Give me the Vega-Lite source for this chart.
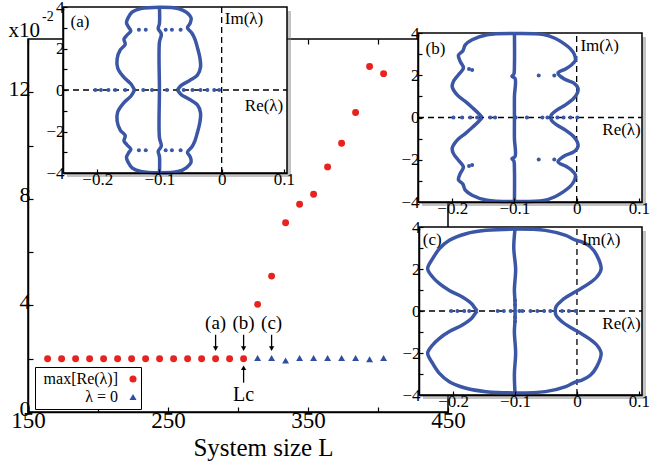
{
"$schema": "https://vega.github.io/schema/vega-lite/v6.json",
"width": 420, "height": 373,
"autosize": {"type": "none"},
"padding": {"left": 28, "top": 39, "right": 204, "bottom": 51},
"background": "white",
"config": {
  "view": {"stroke": null},
  "font": "Liberation Serif",
  "axis": {"grid": false, "labelColor": "black", "domainColor": "black", "tickColor": "black", "titleColor": "black", "labelFont": "Liberation Serif", "titleFont": "Liberation Serif", "labelFlush": false, "labelOverlap": false, "titleFontWeight": "normal", "domainWidth": 1.5, "tickWidth": 1.2},
  "text": {"font": "Liberation Serif", "color": "black"}
},
"datasets": {
  "main": [
    {"L":164,"v":2.0,"s":"max[Re(λ)]"},{"L":174,"v":2.0,"s":"max[Re(λ)]"},{"L":184,"v":2.0,"s":"max[Re(λ)]"},{"L":194,"v":2.0,"s":"max[Re(λ)]"},{"L":204,"v":2.0,"s":"max[Re(λ)]"},
    {"L":214,"v":2.0,"s":"max[Re(λ)]"},{"L":224,"v":2.0,"s":"max[Re(λ)]"},{"L":234,"v":2.0,"s":"max[Re(λ)]"},{"L":244,"v":2.0,"s":"max[Re(λ)]"},{"L":254,"v":2.0,"s":"max[Re(λ)]"},
    {"L":264,"v":2.0,"s":"max[Re(λ)]"},{"L":274,"v":2.0,"s":"max[Re(λ)]"},{"L":284,"v":2.0,"s":"max[Re(λ)]"},{"L":294,"v":2.0,"s":"max[Re(λ)]"},{"L":304,"v":2.0,"s":"max[Re(λ)]"},
    {"L":314,"v":4.04,"s":"max[Re(λ)]"},{"L":324,"v":5.1,"s":"max[Re(λ)]"},{"L":334,"v":7.1,"s":"max[Re(λ)]"},{"L":344,"v":7.8,"s":"max[Re(λ)]"},{"L":354,"v":8.17,"s":"max[Re(λ)]"},
    {"L":364,"v":9.2,"s":"max[Re(λ)]"},{"L":374,"v":10.09,"s":"max[Re(λ)]"},{"L":384,"v":11.24,"s":"max[Re(λ)]"},{"L":394,"v":12.97,"s":"max[Re(λ)]"},{"L":404,"v":12.7,"s":"max[Re(λ)]"},
    {"L":314,"v":2.03,"s":"λ = 0"},{"L":324,"v":2.03,"s":"λ = 0"},{"L":334,"v":1.93,"s":"λ = 0"},{"L":344,"v":2.03,"s":"λ = 0"},{"L":354,"v":2.03,"s":"λ = 0"},
    {"L":364,"v":2.03,"s":"λ = 0"},{"L":374,"v":2.03,"s":"λ = 0"},{"L":384,"v":2.03,"s":"λ = 0"},{"L":394,"v":1.98,"s":"λ = 0"},{"L":404,"v":2.03,"s":"λ = 0"}
  ],
  "annot": [
    {"L":284,"v":3.35,"t":"(a)"},{"L":304,"v":3.35,"t":"(b)"},{"L":324,"v":3.35,"t":"(c)"}
  ],
  "arrowsDown": [
    {"L":284,"v1":2.9,"v2":2.38},{"L":304,"v1":2.9,"v2":2.38},{"L":324,"v1":2.9,"v2":2.38}
  ],
  "aCurve": [
    {"c":"u","i":0,"re":-0.140,"im":0},{"c":"u","i":1,"re":-0.146,"im":0.3},{"c":"u","i":2,"re":-0.158,"im":0.64},{"c":"u","i":3,"re":-0.167,"im":1.05},{"c":"u","i":4,"re":-0.168,"im":1.5},
    {"c":"u","i":5,"re":-0.163,"im":1.93},{"c":"u","i":6,"re":-0.155,"im":2.2},{"c":"u","i":7,"re":-0.157,"im":2.45},{"c":"u","i":8,"re":-0.152,"im":2.65},{"c":"u","i":9,"re":-0.146,"im":2.85},
    {"c":"u","i":10,"re":-0.150,"im":3.05},{"c":"u","i":11,"re":-0.153,"im":3.25},{"c":"u","i":12,"re":-0.150,"im":3.5},{"c":"u","i":13,"re":-0.144,"im":3.75},{"c":"u","i":14,"re":-0.130,"im":3.92},
    {"c":"u","i":15,"re":-0.100,"im":3.99},{"c":"u","i":16,"re":-0.070,"im":3.93},{"c":"u","i":17,"re":-0.057,"im":3.75},{"c":"u","i":18,"re":-0.049,"im":3.45},{"c":"u","i":19,"re":-0.051,"im":3.2},
    {"c":"u","i":20,"re":-0.055,"im":3.0},{"c":"u","i":21,"re":-0.048,"im":2.75},{"c":"u","i":22,"re":-0.043,"im":2.45},{"c":"u","i":23,"re":-0.039,"im":2.05},{"c":"u","i":24,"re":-0.035,"im":1.55},
    {"c":"u","i":25,"re":-0.034,"im":1.1},{"c":"u","i":26,"re":-0.039,"im":0.72},{"c":"u","i":27,"re":-0.052,"im":0.45},{"c":"u","i":28,"re":-0.065,"im":0.22},{"c":"u","i":29,"re":-0.071,"im":0},
    {"c":"l","i":0,"re":-0.140,"im":0},{"c":"l","i":1,"re":-0.146,"im":-0.3},{"c":"l","i":2,"re":-0.158,"im":-0.64},{"c":"l","i":3,"re":-0.167,"im":-1.05},{"c":"l","i":4,"re":-0.168,"im":-1.5},
    {"c":"l","i":5,"re":-0.163,"im":-1.93},{"c":"l","i":6,"re":-0.155,"im":-2.2},{"c":"l","i":7,"re":-0.157,"im":-2.45},{"c":"l","i":8,"re":-0.152,"im":-2.65},{"c":"l","i":9,"re":-0.146,"im":-2.85},
    {"c":"l","i":10,"re":-0.150,"im":-3.05},{"c":"l","i":11,"re":-0.153,"im":-3.25},{"c":"l","i":12,"re":-0.150,"im":-3.5},{"c":"l","i":13,"re":-0.144,"im":-3.75},{"c":"l","i":14,"re":-0.130,"im":-3.92},
    {"c":"l","i":15,"re":-0.100,"im":-3.99},{"c":"l","i":16,"re":-0.070,"im":-3.93},{"c":"l","i":17,"re":-0.057,"im":-3.75},{"c":"l","i":18,"re":-0.049,"im":-3.45},{"c":"l","i":19,"re":-0.051,"im":-3.2},
    {"c":"l","i":20,"re":-0.055,"im":-3.0},{"c":"l","i":21,"re":-0.048,"im":-2.75},{"c":"l","i":22,"re":-0.043,"im":-2.45},{"c":"l","i":23,"re":-0.039,"im":-2.05},{"c":"l","i":24,"re":-0.035,"im":-1.55},
    {"c":"l","i":25,"re":-0.034,"im":-1.1},{"c":"l","i":26,"re":-0.039,"im":-0.72},{"c":"l","i":27,"re":-0.052,"im":-0.45},{"c":"l","i":28,"re":-0.065,"im":-0.22},{"c":"l","i":29,"re":-0.071,"im":0},
    {"c":"m","i":0,"re":-0.100,"im":-3.99},{"c":"m","i":1,"re":-0.100,"im":-3.2},{"c":"m","i":2,"re":-0.102,"im":-2.95},{"c":"m","i":3,"re":-0.097,"im":-2.7},{"c":"m","i":4,"re":-0.100,"im":-2.3},
    {"c":"m","i":5,"re":-0.100,"im":0},{"c":"m","i":6,"re":-0.100,"im":2.3},{"c":"m","i":7,"re":-0.097,"im":2.7},{"c":"m","i":8,"re":-0.102,"im":2.95},{"c":"m","i":9,"re":-0.100,"im":3.2},{"c":"m","i":10,"re":-0.100,"im":3.99}
  ],
  "aDots": [
    {"re":-0.203,"im":0},{"re":-0.194,"im":0},{"re":-0.182,"im":0},{"re":-0.171,"im":0},{"re":-0.155,"im":0},{"re":-0.126,"im":0},{"re":-0.112,"im":0},
    {"re":-0.088,"im":0},{"re":-0.061,"im":0},{"re":-0.047,"im":0},{"re":-0.034,"im":0},{"re":-0.023,"im":0},{"re":-0.012,"im":0},{"re":-0.004,"im":0},
    {"re":-0.133,"im":2.9},{"re":-0.122,"im":2.9},{"re":-0.090,"im":2.9},{"re":-0.080,"im":2.9},{"re":-0.066,"im":2.9},
    {"re":-0.133,"im":-2.9},{"re":-0.122,"im":-2.9},{"re":-0.090,"im":-2.9},{"re":-0.080,"im":-2.9},{"re":-0.066,"im":-2.9}
  ],
  "bCurve": [
    {"c":"u","i":0,"re":-0.152,"im":0},{"c":"u","i":1,"re":-0.158,"im":0.2},{"c":"u","i":2,"re":-0.167,"im":0.45},{"c":"u","i":3,"re":-0.179,"im":0.76},{"c":"u","i":4,"re":-0.192,"im":1.07},
    {"c":"u","i":5,"re":-0.200,"im":1.45},{"c":"u","i":6,"re":-0.198,"im":1.71},{"c":"u","i":7,"re":-0.190,"im":2.02},{"c":"u","i":8,"re":-0.182,"im":2.35},{"c":"u","i":9,"re":-0.187,"im":2.65},
    {"c":"u","i":10,"re":-0.190,"im":2.95},{"c":"u","i":11,"re":-0.183,"im":3.15},{"c":"u","i":12,"re":-0.179,"im":3.44},{"c":"u","i":13,"re":-0.168,"im":3.68},{"c":"u","i":14,"re":-0.144,"im":3.92},
    {"c":"u","i":15,"re":-0.100,"im":3.98},{"c":"u","i":16,"re":-0.053,"im":3.93},{"c":"u","i":17,"re":-0.035,"im":3.75},{"c":"u","i":18,"re":-0.021,"im":3.51},{"c":"u","i":19,"re":-0.010,"im":3.25},
    {"c":"u","i":20,"re":-0.004,"im":3.0},{"c":"u","i":21,"re":-0.002,"im":2.72},{"c":"u","i":22,"re":-0.008,"im":2.5},{"c":"u","i":23,"re":-0.018,"im":2.3},{"c":"u","i":24,"re":-0.030,"im":2.1},
    {"c":"u","i":25,"re":-0.020,"im":1.82},{"c":"u","i":26,"re":-0.004,"im":1.62},{"c":"u","i":27,"re":0.002,"im":1.4},{"c":"u","i":28,"re":0.001,"im":1.15},{"c":"u","i":29,"re":-0.005,"im":0.9},
    {"c":"u","i":30,"re":-0.018,"im":0.6},{"c":"u","i":31,"re":-0.032,"im":0.35},{"c":"u","i":32,"re":-0.040,"im":0.15},{"c":"u","i":33,"re":-0.042,"im":0},
    {"c":"l","i":0,"re":-0.152,"im":0},{"c":"l","i":1,"re":-0.158,"im":-0.2},{"c":"l","i":2,"re":-0.167,"im":-0.45},{"c":"l","i":3,"re":-0.179,"im":-0.76},{"c":"l","i":4,"re":-0.192,"im":-1.07},
    {"c":"l","i":5,"re":-0.200,"im":-1.45},{"c":"l","i":6,"re":-0.198,"im":-1.71},{"c":"l","i":7,"re":-0.190,"im":-2.02},{"c":"l","i":8,"re":-0.182,"im":-2.35},{"c":"l","i":9,"re":-0.187,"im":-2.65},
    {"c":"l","i":10,"re":-0.190,"im":-2.95},{"c":"l","i":11,"re":-0.183,"im":-3.15},{"c":"l","i":12,"re":-0.179,"im":-3.44},{"c":"l","i":13,"re":-0.168,"im":-3.68},{"c":"l","i":14,"re":-0.144,"im":-3.92},
    {"c":"l","i":15,"re":-0.100,"im":-3.98},{"c":"l","i":16,"re":-0.053,"im":-3.93},{"c":"l","i":17,"re":-0.035,"im":-3.75},{"c":"l","i":18,"re":-0.021,"im":-3.51},{"c":"l","i":19,"re":-0.010,"im":-3.25},
    {"c":"l","i":20,"re":-0.004,"im":-3.0},{"c":"l","i":21,"re":-0.002,"im":-2.72},{"c":"l","i":22,"re":-0.008,"im":-2.5},{"c":"l","i":23,"re":-0.018,"im":-2.3},{"c":"l","i":24,"re":-0.030,"im":-2.1},
    {"c":"l","i":25,"re":-0.020,"im":-1.82},{"c":"l","i":26,"re":-0.004,"im":-1.62},{"c":"l","i":27,"re":0.002,"im":-1.4},{"c":"l","i":28,"re":0.001,"im":-1.15},{"c":"l","i":29,"re":-0.005,"im":-0.9},
    {"c":"l","i":30,"re":-0.018,"im":-0.6},{"c":"l","i":31,"re":-0.032,"im":-0.35},{"c":"l","i":32,"re":-0.040,"im":-0.15},{"c":"l","i":33,"re":-0.042,"im":0},
    {"c":"m","i":0,"re":-0.100,"im":-3.98},{"c":"m","i":1,"re":-0.100,"im":-2.5},{"c":"m","i":2,"re":-0.101,"im":-2.05},{"c":"m","i":3,"re":-0.104,"im":-1.95},{"c":"m","i":4,"re":-0.099,"im":-1.85},
    {"c":"m","i":5,"re":-0.100,"im":-1.0},{"c":"m","i":6,"re":-0.100,"im":0},{"c":"m","i":7,"re":-0.100,"im":1.0},{"c":"m","i":8,"re":-0.099,"im":1.85},{"c":"m","i":9,"re":-0.104,"im":1.95},
    {"c":"m","i":10,"re":-0.101,"im":2.05},{"c":"m","i":11,"re":-0.100,"im":2.5},{"c":"m","i":12,"re":-0.100,"im":3.98}
  ],
  "bDots": [
    {"re":-0.198,"im":0},{"re":-0.184,"im":0},{"re":-0.171,"im":0},{"re":-0.160,"im":0},{"re":-0.139,"im":0},{"re":-0.131,"im":0},{"re":-0.098,"im":0},
    {"re":-0.080,"im":0},{"re":-0.055,"im":0},{"re":-0.047,"im":0},{"re":-0.031,"im":0},{"re":-0.021,"im":0},{"re":-0.010,"im":0},{"re":0.001,"im":0},
    {"re":-0.036,"im":1.99},{"re":-0.061,"im":1.99},{"re":-0.036,"im":-1.99},{"re":-0.061,"im":-1.99},
    {"re":-0.173,"im":2.3},{"re":-0.168,"im":2.25},{"re":-0.173,"im":-2.3},{"re":-0.168,"im":-2.25}
  ],
  "cCurve": [
    {"c":"u","i":0,"re":-0.161,"im":0},{"c":"u","i":1,"re":-0.165,"im":0.15},{"c":"u","i":2,"re":-0.170,"im":0.35},{"c":"u","i":3,"re":-0.185,"im":0.67},{"c":"u","i":4,"re":-0.206,"im":0.98},
    {"c":"u","i":5,"re":-0.222,"im":1.30},{"c":"u","i":6,"re":-0.233,"im":1.62},{"c":"u","i":7,"re":-0.241,"im":2.01},{"c":"u","i":8,"re":-0.233,"im":2.49},{"c":"u","i":9,"re":-0.222,"im":2.97},
    {"c":"u","i":10,"re":-0.206,"im":3.37},{"c":"u","i":11,"re":-0.179,"im":3.68},{"c":"u","i":12,"re":-0.147,"im":3.84},{"c":"u","i":13,"re":-0.100,"im":3.9},{"c":"u","i":14,"re":-0.051,"im":3.84},
    {"c":"u","i":15,"re":-0.018,"im":3.60},{"c":"u","i":16,"re":-0.002,"im":3.37},{"c":"u","i":17,"re":0.008,"im":3.29},{"c":"u","i":18,"re":0.022,"im":3.05},{"c":"u","i":19,"re":0.032,"im":2.65},
    {"c":"u","i":20,"re":0.039,"im":2.01},{"c":"u","i":21,"re":0.032,"im":1.62},{"c":"u","i":22,"re":0.019,"im":1.30},{"c":"u","i":23,"re":0.006,"im":1.06},{"c":"u","i":24,"re":-0.008,"im":0.82},
    {"c":"u","i":25,"re":-0.024,"im":0.51},{"c":"u","i":26,"re":-0.034,"im":0.19},{"c":"u","i":27,"re":-0.035,"im":0},
    {"c":"l","i":0,"re":-0.161,"im":0},{"c":"l","i":1,"re":-0.165,"im":-0.15},{"c":"l","i":2,"re":-0.170,"im":-0.35},{"c":"l","i":3,"re":-0.185,"im":-0.67},{"c":"l","i":4,"re":-0.206,"im":-0.98},
    {"c":"l","i":5,"re":-0.222,"im":-1.30},{"c":"l","i":6,"re":-0.233,"im":-1.62},{"c":"l","i":7,"re":-0.241,"im":-2.01},{"c":"l","i":8,"re":-0.233,"im":-2.49},{"c":"l","i":9,"re":-0.222,"im":-2.97},
    {"c":"l","i":10,"re":-0.206,"im":-3.37},{"c":"l","i":11,"re":-0.179,"im":-3.68},{"c":"l","i":12,"re":-0.147,"im":-3.84},{"c":"l","i":13,"re":-0.100,"im":-3.9},{"c":"l","i":14,"re":-0.051,"im":-3.84},
    {"c":"l","i":15,"re":-0.018,"im":-3.60},{"c":"l","i":16,"re":-0.002,"im":-3.37},{"c":"l","i":17,"re":0.008,"im":-3.29},{"c":"l","i":18,"re":0.022,"im":-3.05},{"c":"l","i":19,"re":0.032,"im":-2.65},
    {"c":"l","i":20,"re":0.039,"im":-2.01},{"c":"l","i":21,"re":0.032,"im":-1.62},{"c":"l","i":22,"re":0.019,"im":-1.30},{"c":"l","i":23,"re":0.006,"im":-1.06},{"c":"l","i":24,"re":-0.008,"im":-0.82},
    {"c":"l","i":25,"re":-0.024,"im":-0.51},{"c":"l","i":26,"re":-0.034,"im":-0.19},{"c":"l","i":27,"re":-0.035,"im":0},
    {"c":"m","i":0,"re":-0.100,"im":-3.9},{"c":"m","i":1,"re":-0.101,"im":-3.0},{"c":"m","i":2,"re":-0.099,"im":-2.0},{"c":"m","i":3,"re":-0.101,"im":-1.0},{"c":"m","i":4,"re":-0.100,"im":-0.4},
    {"c":"m","i":5,"re":-0.100,"im":0.4},{"c":"m","i":6,"re":-0.101,"im":1.0},{"c":"m","i":7,"re":-0.099,"im":2.0},{"c":"m","i":8,"re":-0.102,"im":3.0},{"c":"m","i":9,"re":-0.100,"im":3.9}
  ],
  "cDots": [
    {"re":-0.203,"im":0},{"re":-0.193,"im":0},{"re":-0.182,"im":0},{"re":-0.174,"im":0},{"re":-0.128,"im":0},{"re":-0.118,"im":0},{"re":-0.107,"im":0},{"re":-0.093,"im":0},
    {"re":-0.088,"im":0},{"re":-0.075,"im":0},{"re":-0.064,"im":0},{"re":-0.053,"im":0},{"re":-0.043,"im":0},{"re":-0.024,"im":0},{"re":-0.013,"im":0},{"re":-0.002,"im":0},
    {"re":-0.100,"im":0.3},{"re":-0.100,"im":-0.3},{"re":-0.100,"im":0.5},{"re":-0.100,"im":-0.5}
  ]
},
"layer": [
  {
    "data": {"values": [{}]},
    "mark": {"type": "point", "opacity": 0},
    "encoding": {
      "x": {"datum": 150, "type": "quantitative", "title": null,
            "scale": {"domain": [150, 450], "nice": false, "zero": false},
            "axis": {"orient": "top", "offset": 0, "values": [150,200,250,300,350,400,450], "labels": false, "domain": false, "tickSize": -5, "zindex": 0}},
      "y": {"datum": 0, "type": "quantitative", "title": null,
            "scale": {"domain": [0, 14], "nice": false, "zero": false},
            "axis": {"orient": "right", "offset": 0, "values": [0,2,4,6,8,10,12], "labels": false, "domain": false, "tickSize": -5, "zindex": 0}}
    }
  },
  {
    "layer": [
      {"data": {"values": [{}]},
       "mark": {"type": "rect", "filled": false, "color": "black", "strokeWidth": 1.5},
       "encoding": {
         "x": {"datum": 150, "type": "quantitative", "title": "System size L",
               "scale": {"domain": [150, 450], "nice": false, "zero": false},
               "axis": {"orient": "bottom", "offset": 0, "values": [150,200,250,300,350,400,450], "labelExpr": "(datum.value - 150) % 100 == 0 ? datum.label : ''", "tickSize": -5, "labelFontSize": 23, "labelPadding": 2, "titleFontSize": 25, "titleX": 235, "titleY": 43, "titleBaseline": "alphabetic", "titleAlign": "center", "zindex": 0}},
         "x2": {"datum": 450},
         "y": {"datum": 0, "type": "quantitative", "title": null,
               "scale": {"domain": [0, 14], "nice": false, "zero": false},
               "axis": {"orient": "left", "offset": 0, "values": [0,2,4,6,8,10,12], "labelExpr": "datum.value % 4 == 0 ? datum.label : ''", "tickSize": -5, "labelFontSize": 22, "labelPadding": 3, "labelOffset": -4, "zindex": 0}},
         "y2": {"datum": 14}
       }},
      {"data": {"name": "main"},
       "mark": {"type": "point", "filled": true, "opacity": 1, "size": 48},
       "encoding": {
         "x": {"field": "L", "type": "quantitative", "title": "System size L"},
         "y": {"field": "v", "type": "quantitative", "title": null},
         "color": {"field": "s", "type": "nominal", "scale": {"domain": ["max[Re(λ)]", "λ = 0"], "range": ["#e8231f", "#2f4ea3"]},
                   "legend": {"title": null, "orient": "none", "legendX": 7, "legendY": 328, "strokeColor": "black", "fillColor": "white", "padding": 4, "labelFontSize": 16, "labelFont": "Liberation Serif", "labelColor": "black", "symbolSize": 50, "symbolStrokeWidth": 0, "rowPadding": 2, "labelLimit": 200, "labelAlign": "right", "labelOffset": -23, "symbolOffset": 86}},
         "shape": {"field": "s", "type": "nominal", "scale": {"domain": ["max[Re(λ)]", "λ = 0"], "range": ["circle", "triangle-up"]},
                   "legend": {"title": null, "orient": "none", "legendX": 7, "legendY": 328, "strokeColor": "black", "fillColor": "white", "padding": 4, "labelFontSize": 16, "labelFont": "Liberation Serif", "labelColor": "black", "symbolSize": 50, "symbolStrokeWidth": 0, "rowPadding": 2, "labelLimit": 200, "labelAlign": "right", "labelOffset": -23, "symbolOffset": 86}}
       }},
      {"data": {"name": "arrowsDown"},
       "mark": {"type": "rule", "color": "black", "strokeWidth": 1.3},
       "encoding": {"x": {"field": "L", "type": "quantitative", "title": "System size L"}, "y": {"field": "v1", "type": "quantitative", "title": null}, "y2": {"field": "v2"}}},
      {"data": {"name": "arrowsDown"},
       "mark": {"type": "point", "shape": "triangle-down", "filled": true, "color": "black", "size": 28, "opacity": 1},
       "encoding": {"x": {"field": "L", "type": "quantitative", "title": "System size L"}, "y": {"field": "v2", "type": "quantitative", "title": null}}},
      {"data": {"values": [{}]},
       "mark": {"type": "rule", "color": "black", "strokeWidth": 1.3},
       "encoding": {"x": {"datum": 304, "type": "quantitative", "title": "System size L"}, "y": {"datum": 1.1, "type": "quantitative", "title": null}, "y2": {"datum": 1.66}}},
      {"data": {"values": [{}]},
       "mark": {"type": "point", "shape": "triangle-up", "filled": true, "color": "black", "size": 28, "opacity": 1},
       "encoding": {"x": {"datum": 304, "type": "quantitative", "title": "System size L"}, "y": {"datum": 1.66, "type": "quantitative", "title": null}}},
      {"data": {"name": "annot"},
       "mark": {"type": "text", "fontSize": 19, "align": "center", "baseline": "middle"},
       "encoding": {"x": {"field": "L", "type": "quantitative", "title": "System size L"}, "y": {"field": "v", "type": "quantitative", "title": null}, "text": {"field": "t"}}},
      {"data": {"values": [{}]},
       "mark": {"type": "text", "fontSize": 20, "align": "center", "baseline": "middle", "text": "Lc"},
       "encoding": {"x": {"datum": 304, "type": "quantitative", "title": "System size L"}, "y": {"datum": 0.62, "type": "quantitative", "title": null}}},
      {"data": {"values": [{}]},
       "mark": {"type": "text", "fontSize": 21, "align": "right", "baseline": "alphabetic", "text": "x10"},
       "encoding": {"x": {"datum": 158.6, "type": "quantitative", "title": "System size L"}, "y": {"datum": 14.08, "type": "quantitative", "title": null}}},
      {"data": {"values": [{}]},
       "mark": {"type": "text", "fontSize": 14, "align": "left", "baseline": "middle", "text": "-2"},
       "encoding": {"x": {"datum": 160.0, "type": "quantitative", "title": "System size L"}, "y": {"datum": 14.83, "type": "quantitative", "title": null}}}
    ]
  },
  {
    "layer": [
      {"data": {"values": [{}]},
       "mark": {"type": "rect", "color": "#7a7a7a", "opacity": 0.45, "xOffset": 4, "x2Offset": 4, "yOffset": 4, "y2Offset": 4},
       "encoding": {
         "x": {"datum": -0.255, "type": "quantitative", "title": null,
               "scale": {"domain": [-0.255, 0.105], "range": [35, 259], "nice": false, "zero": false},
               "axis": {"orient": "bottom", "offset": -239, "values": [-0.2,-0.1,0,0.1], "format": ".1~f", "tickSize": -4, "labelFontSize": 17, "labelPadding": 2, "zindex": 2}},
         "x2": {"datum": 0.105},
         "y": {"datum": -4, "type": "quantitative", "title": null,
               "scale": {"domain": [-4, 4], "range": [134, -32], "nice": false, "zero": false},
               "axis": {"orient": "left", "offset": -35, "values": [-4,-3,-2,-1,0,1,2,3,4], "format": "d", "labelExpr": "datum.value % 2 == 0 ? datum.label : ''", "tickSize": -4, "labelFontSize": 17, "labelPadding": 3, "zindex": 2}},
         "y2": {"datum": 4}
       }},
      {"data": {"values": [{}]},
       "mark": {"type": "rect", "fill": "white", "stroke": "black", "strokeWidth": 1.5},
       "encoding": {"x": {"datum": -0.255, "type": "quantitative", "title": null}, "x2": {"datum": 0.105}, "y": {"datum": -4, "type": "quantitative", "title": null}, "y2": {"datum": 4}}},
      {"data": {"values": [{}]},
       "mark": {"type": "rule", "color": "black", "strokeWidth": 1.3, "strokeDash": [6, 4]},
       "encoding": {"x": {"datum": 0, "type": "quantitative", "title": null}, "y": {"datum": -4, "type": "quantitative", "title": null}, "y2": {"datum": 4}}},
      {"data": {"values": [{}]},
       "mark": {"type": "rule", "color": "black", "strokeWidth": 1.3, "strokeDash": [6, 4]},
       "encoding": {"x": {"datum": -0.255, "type": "quantitative", "title": null}, "x2": {"datum": 0.105}, "y": {"datum": 0, "type": "quantitative", "title": null}}},
      {"data": {"name": "aCurve"},
       "mark": {"type": "line", "color": "#3a56a5", "strokeWidth": 3.5, "interpolate": "catmull-rom"},
       "encoding": {"x": {"field": "re", "type": "quantitative", "title": null}, "y": {"field": "im", "type": "quantitative", "title": null}, "detail": {"field": "c"}, "order": {"field": "i", "type": "quantitative"}}},
      {"data": {"name": "aDots"},
       "mark": {"type": "point", "filled": true, "color": "#3a56a5", "size": 16, "opacity": 1},
       "encoding": {"x": {"field": "re", "type": "quantitative", "title": null}, "y": {"field": "im", "type": "quantitative", "title": null}}},
      {"data": {"values": [{}]},
       "mark": {"type": "text", "text": "(a)", "fontSize": 17, "align": "left", "baseline": "middle"},
       "encoding": {"x": {"datum": -0.243, "type": "quantitative", "title": null}, "y": {"datum": 3.28, "type": "quantitative", "title": null}}},
      {"data": {"values": [{}]},
       "mark": {"type": "text", "text": "Im(λ)", "fontSize": 17, "align": "left", "baseline": "middle"},
       "encoding": {"x": {"datum": 0.005, "type": "quantitative", "title": null}, "y": {"datum": 3.4, "type": "quantitative", "title": null}}},
      {"data": {"values": [{}]},
       "mark": {"type": "text", "text": "Re(λ)", "fontSize": 17, "align": "right", "baseline": "middle"},
       "encoding": {"x": {"datum": 0.099, "type": "quantitative", "title": null}, "y": {"datum": -0.76, "type": "quantitative", "title": null}}}
    ]
  },
  {
    "layer": [
      {"data": {"values": [{}]},
       "mark": {"type": "rect", "color": "#7a7a7a", "opacity": 0.45, "xOffset": 4, "x2Offset": 4, "yOffset": 4, "y2Offset": 4},
       "encoding": {
         "x": {"datum": -0.255, "type": "quantitative", "title": null,
               "scale": {"domain": [-0.255, 0.105], "range": [390, 614], "nice": false, "zero": false},
               "axis": {"orient": "bottom", "offset": -210, "values": [-0.2,-0.1,0,0.1], "format": ".1~f", "tickSize": -4, "labelFontSize": 17, "labelPadding": 2, "zindex": 2}},
         "x2": {"datum": 0.105},
         "y": {"datum": -4, "type": "quantitative", "title": null,
               "scale": {"domain": [-4, 4], "range": [163, -6], "nice": false, "zero": false},
               "axis": {"orient": "left", "offset": -390, "values": [-4,-3,-2,-1,0,1,2,3,4], "format": "d", "labelExpr": "datum.value % 2 == 0 ? datum.label : ''", "tickSize": -4, "labelFontSize": 17, "labelPadding": 3, "zindex": 2}},
         "y2": {"datum": 4}
       }},
      {"data": {"values": [{}]},
       "mark": {"type": "rect", "fill": "white", "stroke": "black", "strokeWidth": 1.5},
       "encoding": {"x": {"datum": -0.255, "type": "quantitative", "title": null}, "x2": {"datum": 0.105}, "y": {"datum": -4, "type": "quantitative", "title": null}, "y2": {"datum": 4}}},
      {"data": {"values": [{}]},
       "mark": {"type": "rule", "color": "black", "strokeWidth": 1.3, "strokeDash": [6, 4]},
       "encoding": {"x": {"datum": 0, "type": "quantitative", "title": null}, "y": {"datum": -4, "type": "quantitative", "title": null}, "y2": {"datum": 4}}},
      {"data": {"values": [{}]},
       "mark": {"type": "rule", "color": "black", "strokeWidth": 1.3, "strokeDash": [6, 4]},
       "encoding": {"x": {"datum": -0.255, "type": "quantitative", "title": null}, "x2": {"datum": 0.105}, "y": {"datum": 0, "type": "quantitative", "title": null}}},
      {"data": {"name": "bCurve"},
       "mark": {"type": "line", "color": "#3a56a5", "strokeWidth": 3.5, "interpolate": "catmull-rom"},
       "encoding": {"x": {"field": "re", "type": "quantitative", "title": null}, "y": {"field": "im", "type": "quantitative", "title": null}, "detail": {"field": "c"}, "order": {"field": "i", "type": "quantitative"}}},
      {"data": {"name": "bDots"},
       "mark": {"type": "point", "filled": true, "color": "#3a56a5", "size": 16, "opacity": 1},
       "encoding": {"x": {"field": "re", "type": "quantitative", "title": null}, "y": {"field": "im", "type": "quantitative", "title": null}}},
      {"data": {"values": [{}]},
       "mark": {"type": "text", "text": "(b)", "fontSize": 17, "align": "left", "baseline": "middle"},
       "encoding": {"x": {"datum": -0.243, "type": "quantitative", "title": null}, "y": {"datum": 3.26, "type": "quantitative", "title": null}}},
      {"data": {"values": [{}]},
       "mark": {"type": "text", "text": "Im(λ)", "fontSize": 17, "align": "left", "baseline": "middle"},
       "encoding": {"x": {"datum": 0.006, "type": "quantitative", "title": null}, "y": {"datum": 3.4, "type": "quantitative", "title": null}}},
      {"data": {"values": [{}]},
       "mark": {"type": "text", "text": "Re(λ)", "fontSize": 17, "align": "right", "baseline": "middle"},
       "encoding": {"x": {"datum": 0.103, "type": "quantitative", "title": null}, "y": {"datum": -0.6, "type": "quantitative", "title": null}}}
    ]
  },
  {
    "layer": [
      {"data": {"values": [{}]},
       "mark": {"type": "rect", "color": "#7a7a7a", "opacity": 0.45, "xOffset": 4, "x2Offset": 4, "yOffset": 4, "y2Offset": 4},
       "encoding": {
         "x": {"datum": -0.255, "type": "quantitative", "title": null,
               "scale": {"domain": [-0.255, 0.105], "range": [391, 614], "nice": false, "zero": false},
               "axis": {"orient": "bottom", "offset": -17, "values": [-0.2,-0.1,0,0.1], "format": ".1~f", "tickSize": -4, "labelFontSize": 17, "labelPadding": 2, "zindex": 2}},
         "x2": {"datum": 0.105},
         "y": {"datum": -4, "type": "quantitative", "title": null,
               "scale": {"domain": [-4, 4], "range": [356, 188], "nice": false, "zero": false},
               "axis": {"orient": "left", "offset": -391, "values": [-4,-3,-2,-1,0,1,2,3,4], "format": "d", "labelExpr": "datum.value % 2 == 0 ? datum.label : ''", "tickSize": -4, "labelFontSize": 17, "labelPadding": 3, "zindex": 2}},
         "y2": {"datum": 4}
       }},
      {"data": {"values": [{}]},
       "mark": {"type": "rect", "fill": "white", "stroke": "black", "strokeWidth": 1.5},
       "encoding": {"x": {"datum": -0.255, "type": "quantitative", "title": null}, "x2": {"datum": 0.105}, "y": {"datum": -4, "type": "quantitative", "title": null}, "y2": {"datum": 4}}},
      {"data": {"values": [{}]},
       "mark": {"type": "rule", "color": "black", "strokeWidth": 1.3, "strokeDash": [6, 4]},
       "encoding": {"x": {"datum": 0, "type": "quantitative", "title": null}, "y": {"datum": -4, "type": "quantitative", "title": null}, "y2": {"datum": 4}}},
      {"data": {"values": [{}]},
       "mark": {"type": "rule", "color": "black", "strokeWidth": 1.3, "strokeDash": [6, 4]},
       "encoding": {"x": {"datum": -0.255, "type": "quantitative", "title": null}, "x2": {"datum": 0.105}, "y": {"datum": 0, "type": "quantitative", "title": null}}},
      {"data": {"name": "cCurve"},
       "mark": {"type": "line", "color": "#3a56a5", "strokeWidth": 3.5, "interpolate": "catmull-rom"},
       "encoding": {"x": {"field": "re", "type": "quantitative", "title": null}, "y": {"field": "im", "type": "quantitative", "title": null}, "detail": {"field": "c"}, "order": {"field": "i", "type": "quantitative"}}},
      {"data": {"name": "cDots"},
       "mark": {"type": "point", "filled": true, "color": "#3a56a5", "size": 16, "opacity": 1},
       "encoding": {"x": {"field": "re", "type": "quantitative", "title": null}, "y": {"field": "im", "type": "quantitative", "title": null}}},
      {"data": {"values": [{}]},
       "mark": {"type": "text", "text": "(c)", "fontSize": 17, "align": "left", "baseline": "middle"},
       "encoding": {"x": {"datum": -0.249, "type": "quantitative", "title": null}, "y": {"datum": 3.4, "type": "quantitative", "title": null}}},
      {"data": {"values": [{}]},
       "mark": {"type": "text", "text": "Im(λ)", "fontSize": 17, "align": "left", "baseline": "middle"},
       "encoding": {"x": {"datum": 0.008, "type": "quantitative", "title": null}, "y": {"datum": 3.38, "type": "quantitative", "title": null}}},
      {"data": {"values": [{}]},
       "mark": {"type": "text", "text": "Re(λ)", "fontSize": 17, "align": "right", "baseline": "middle"},
       "encoding": {"x": {"datum": 0.103, "type": "quantitative", "title": null}, "y": {"datum": -0.64, "type": "quantitative", "title": null}}}
    ]
  }
],
"resolve": {"scale": {"x": "independent", "y": "independent"}, "axis": {"x": "independent", "y": "independent"}}
}
